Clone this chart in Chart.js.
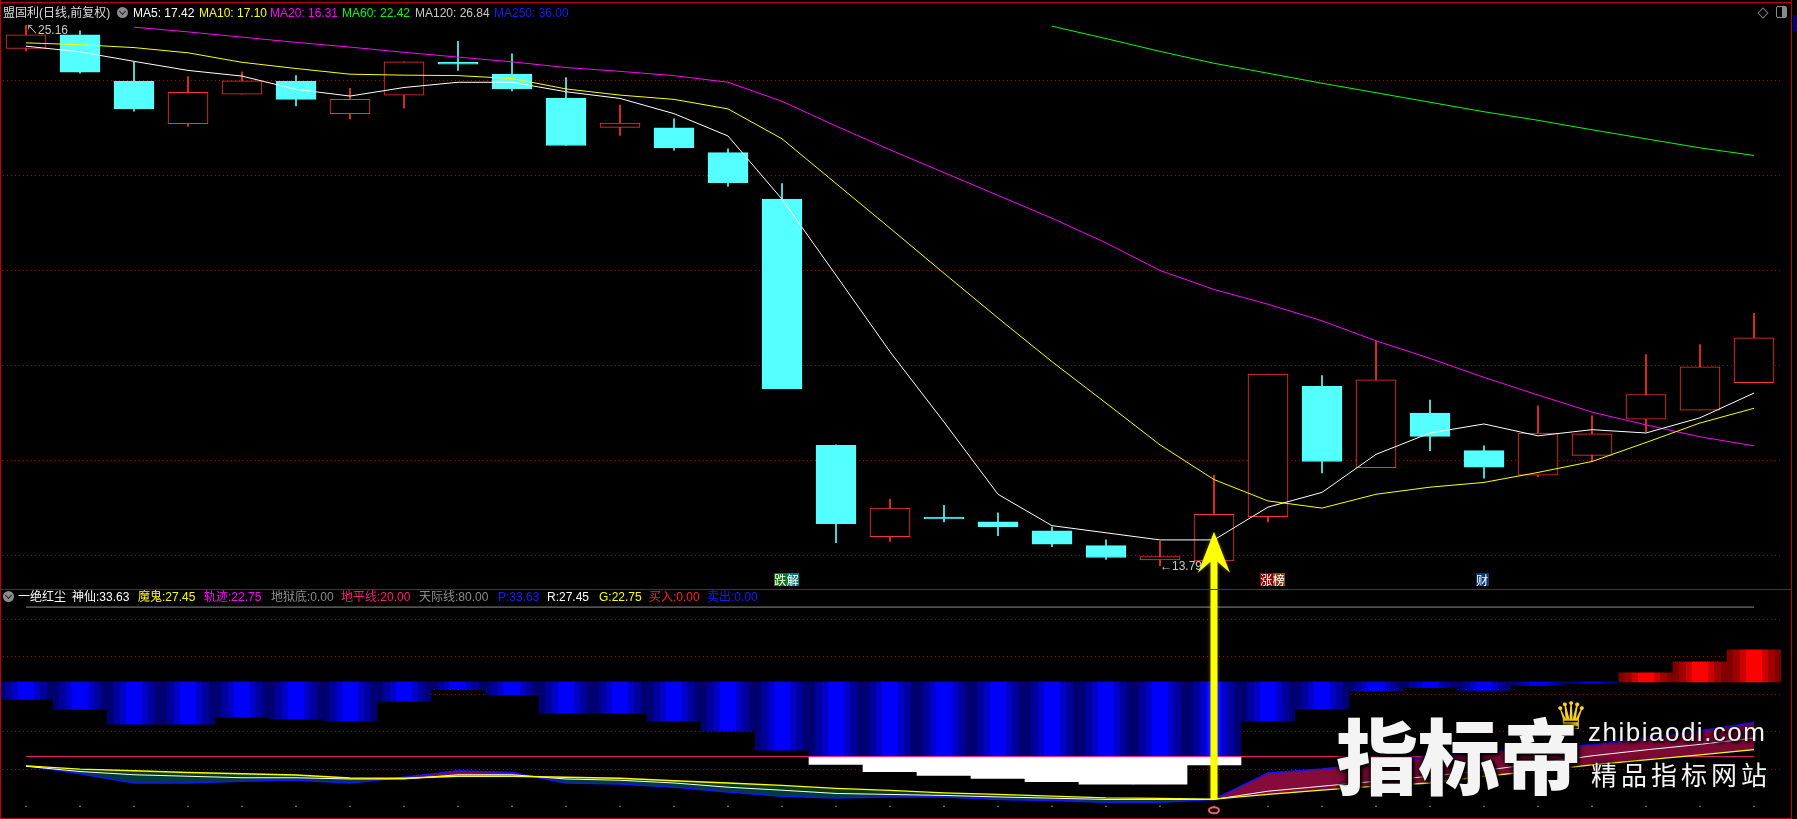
<!DOCTYPE html>
<html>
<head>
<meta charset="utf-8">
<title>盟固利 日线</title>
<script src="https://cdn.jsdelivr.net/npm/chart.js@4.4.1/dist/chart.umd.min.js"></script>
<style>
    html, body { margin: 0; padding: 0; background: #000; width: 1797px; height: 819px; overflow: hidden; }
    #wrap { position: relative; width: 1797px; height: 819px; overflow: hidden; }
    #kc { position: absolute; left: -5px; top: 14px; }
    .t { position: absolute; font: 12px "Liberation Sans", "Noto Sans CJK SC", sans-serif; line-height: 14px; white-space: nowrap; }
    .line { position: absolute; background: #c00000; }
    .ico { position: absolute; width: 11px; height: 11px; border-radius: 50%; background: #8c8c8c; }
    .ico::after { content: ""; position: absolute; left: 3px; top: 2px; width: 4px; height: 4px; border-right: 1.5px solid #222; border-bottom: 1.5px solid #222; transform: rotate(45deg); }
    .tag { position: absolute; font: 12px "Noto Sans CJK SC", sans-serif; line-height: 13px; color: #fff; display: flex; }
    .tag span { display: block; width: 12.5px; text-align: center; }
    .wm { position: absolute; color: #f4f4f4; white-space: nowrap; text-shadow: 0 0 4px #000, 0 0 8px #000, 2px 2px 3px #000; }
</style>
</head>
<body>
<div id="wrap">
    <canvas id="kc" width="1790" height="804"></canvas>

    <!-- frame -->
    <div class="line" style="left:0;top:2px;width:1792px;height:1px"></div>
    <div class="line" style="left:0;top:0;width:1px;height:819px"></div>
    <div class="line" style="left:1791px;top:0;width:1px;height:819px"></div>
    <div class="line" style="left:0;top:589px;width:1792px;height:1px"></div>
    <div class="line" style="left:0;top:818px;width:1792px;height:1px"></div>
    <div style="position:absolute;left:1793px;top:15px;width:4px;height:16px;background:#000080"></div>
    <div style="position:absolute;left:1759px;top:9px;width:6px;height:6px;border:1px solid #777;transform:rotate(45deg)"></div>
    <div style="position:absolute;left:1776px;top:6px;width:9px;height:10px;border:1px solid #888;border-radius:2px;background:linear-gradient(90deg,#000 50%,#888 50%)"></div>

    <!-- main legend -->
    <span class="t" style="left:3px;top:6px;color:#dcdcdc">盟固利(日线,前复权)</span>
    <div class="ico" style="left:117px;top:7px"></div>
    <span class="t" style="left:133px;top:6px;color:#ffffff">MA5: 17.42</span>
    <span class="t" style="left:199px;top:6px;color:#ffff00">MA10: 17.10</span>
    <span class="t" style="left:270px;top:6px;color:#ff00ff">MA20: 16.31</span>
    <span class="t" style="left:342px;top:6px;color:#00ff00">MA60: 22.42</span>
    <span class="t" style="left:415px;top:6px;color:#c8c8c8">MA120: 26.84</span>
    <span class="t" style="left:494px;top:6px;color:#1a1aff">MA250: 36.00</span>

    <!-- indicator legend -->
    <div class="ico" style="left:3px;top:591px"></div>
    <span class="t" style="left:18px;top:590px;color:#ffffff">一绝红尘</span>
    <span class="t" style="left:72px;top:590px;color:#ffffff">神仙:33.63</span>
    <span class="t" style="left:138px;top:590px;color:#ffff00">魔鬼:27.45</span>
    <span class="t" style="left:204px;top:590px;color:#ff00ff">轨迹:22.75</span>
    <span class="t" style="left:271px;top:590px;color:#8c8c8c">地狱底:0.00</span>
    <span class="t" style="left:341px;top:590px;color:#ff1a75">地平线:20.00</span>
    <span class="t" style="left:419px;top:590px;color:#8c8c8c">天际线:80.00</span>
    <span class="t" style="left:498px;top:590px;color:#1a1aff">P:33.63</span>
    <span class="t" style="left:547px;top:590px;color:#ffffff">R:27.45</span>
    <span class="t" style="left:599px;top:590px;color:#ffff00">G:22.75</span>
    <span class="t" style="left:649px;top:590px;color:#ff2020">买入:0.00</span>
    <span class="t" style="left:707px;top:590px;color:#1a1aff">卖出:0.00</span>

    <!-- price marks, placed from the scales below -->
    <span class="t" id="hiMark" style="color:#c8c8c8"></span>
    <span class="t" id="loMark" style="color:#c8c8c8"></span>
    <div id="tags"></div>

    <!-- site watermark -->
    <span class="wm" style="left:1554px;top:694px;font:38px 'DejaVu Sans';color:#ffd21a">♛</span>
    <span class="wm" style="left:1336px;top:712px;font:900 82px/1 'Noto Sans CJK SC'">指标帝</span>
    <span class="wm" style="left:1588px;top:717px;font:26px/1.2 'Liberation Sans';letter-spacing:1.5px">zhibiaodi.com</span>
    <span class="wm" style="left:1591px;top:760px;font:26px/1.1 'Noto Sans CJK SC';letter-spacing:4px">精品指标网站</span>
</div>

<script>
// ---------- DATA ----------
const days = ["01", "02", "03", "04", "05", "06", "07", "08", "09", "10", "11",
    "12", "13", "14", "15", "16", "17", "18", "19", "20", "21", "22",
    "23", "24", "25", "26", "27", "28", "29", "30", "31", "32", "33"];

const openP = [24.67, 24.96, 23.98, 23.09, 23.71, 23.98, 23.30, 23.69, 24.38, 24.13, 23.63,
    23.01, 23.00, 22.48, 21.50, 16.32, 14.40, 14.81, 14.71, 14.52, 14.21, 13.91,
    13.89, 14.82, 17.56, 15.85, 17.00, 16.21, 15.69, 16.11, 16.87, 17.06, 17.64];
const highP = [25.16, 25.04, 24.38, 24.08, 24.18, 24.10, 23.83, 24.39, 24.82, 24.56, 24.06,
    23.48, 23.19, 22.56, 21.83, 16.33, 15.19, 15.06, 14.90, 14.60, 14.33, 14.30,
    15.69, 17.82, 17.79, 18.51, 17.27, 16.31, 17.15, 16.94, 18.23, 18.44, 19.10];
const lowP = [24.62, 24.15, 23.35, 23.03, 23.71, 23.46, 23.19, 23.42, 24.21, 23.78, 22.63,
    22.84, 22.53, 21.77, 17.51, 14.27, 14.30, 14.71, 14.42, 14.19, 13.92, 13.79,
    13.89, 14.71, 15.74, 15.85, 16.21, 15.63, 15.66, 15.98, 16.61, 17.06, 17.64];
const closeP = [24.96, 24.17, 23.40, 23.75, 23.99, 23.60, 23.60, 24.39, 24.34, 23.82, 22.63,
    23.10, 22.58, 21.85, 17.51, 14.67, 15.00, 14.77, 14.61, 14.24, 13.96, 13.98,
    14.87, 17.82, 15.98, 17.70, 16.51, 15.86, 16.58, 16.56, 17.39, 17.97, 18.58];

const ma5 = [24.72, 24.60, 24.40, 24.21, 24.09, 23.81, 23.67, 23.85, 23.96, 23.96, 23.76,
    23.62, 23.30, 22.83, 21.50, 19.90, 18.29, 16.81, 15.29, 14.63, 14.48, 14.33,
    14.33, 15.02, 15.33, 16.13, 16.58, 16.77, 16.52, 16.65, 16.58, 16.90, 17.42];
const ma10 = [24.79, 24.75, 24.69, 24.58, 24.38, 24.25, 24.13, 24.11, 24.10, 24.04, 23.82,
    23.69, 23.60, 23.40, 22.77, 21.83, 20.89, 19.94, 19.00, 18.08, 17.21, 16.33,
    15.60, 15.15, 15.00, 15.29, 15.44, 15.54, 15.75, 15.98, 16.38, 16.79, 17.10];
const ma20 = [null, null, 25.12, 25.02, 24.91, 24.80, 24.70, 24.59, 24.49, 24.39, 24.27,
    24.19, 24.10, 23.96, 23.56, 23.04, 22.54, 22.06, 21.58, 21.10, 20.58, 20.00,
    19.60, 19.29, 18.94, 18.52, 18.15, 17.75, 17.38, 17.02, 16.75, 16.50, 16.31];
const ma60 = [null, null, null, null, null, null, null, null, null, null, null,
    null, null, null, null, null, null, null, null, 25.14, 24.88, 24.61,
    24.36, 24.15, 23.94, 23.74, 23.54, 23.34, 23.16, 22.96, 22.77, 22.58, 22.42];

// 一绝红尘 indicator
const bandBlue = [42.9, 38.9, 33.0, 33.0, 35.8, 35.0, 34.2, 42.1, 46.9, 44.8, 37.3,
    37.3, 34.4, 30.2, 22.6, 20.0, 20.0, 20.0, 20.0, 20.0, 20.0, 20.0,
    20.0, 34.2, 39.1, 46.5, 47.7, 46.6, 48.6, 49.4, null, null, null];
const bandRed = [null, null, null, null, null, null, null, null, null, null, null,
    null, null, null, null, null, null, null, null, null, null, null,
    null, null, null, null, null, null, null, null, 53.6, 58.0, 62.8];
const bandWhite = [null, null, null, null, null, null, null, null, null, null, null,
    null, null, null, null, 16.8, 13.9, 12.4, 11.2, 9.9, 8.9, 8.9,
    16.6, null, null, null, null, null, null, null, null, null, null];
const indP = [16.4, 13.1, 9.4, 9.4, 10.1, 10.5, 9.4, 11.7, 14.3, 13.6, 9.4,
    9.0, 7.7, 5.8, 4.1, 3.4, 3.8, 3.8, 2.8, 2.4, 1.7, 1.7,
    2.8, 13.4, 15.0, 17.3, 20.0, 21.6, 23.3, 24.7, 27.3, 30.3, 33.63];
const indR = [16.1, 14.0, 12.7, 12.1, 11.5, 11.5, 11.0, 11.0, 12.7, 12.7, 11.0,
    10.5, 9.4, 7.7, 6.5, 5.2, 4.8, 4.4, 3.8, 3.3, 2.8, 2.8,
    2.8, 6.1, 8.1, 10.1, 12.1, 14.4, 17.3, 20.3, 22.7, 24.9, 27.45];
const indG = [16.3, 15.0, 14.3, 13.6, 13.1, 12.6, 11.4, 11.3, 12.1, 12.1, 11.7,
    11.3, 10.3, 9.4, 8.4, 7.2, 6.4, 5.4, 4.8, 4.1, 3.4, 3.2,
    2.9, 4.8, 6.5, 8.1, 9.4, 12.1, 14.3, 16.7, 18.7, 20.7, 22.75];
const BAND_MID = 50;
const SKY = 80;     // 天际线
const EARTH = 20;   // 地平线
const HELL = 0;     // 地狱底

const mainGrid = [14, 16, 18, 20, 22, 24];
const indGrid = [15, 30, 45, 60, 75];

// marks
const tagBars = [14, 23, 27];
const tagTexts = ["跌解", "涨榜", "财"];
const ARROW_BAR = 22, ARROW_TIP = 14.5, ARROW_FOOT = 2.9;

// ---------- STYLE ----------
const UP = "#ff3232", DOWN = "#54ffff";
const CANVAS_LEFT = -5, CANVAS_TOP = 14;
const tagColors = [["#0a7a0a", "#007b7b"], ["#8b0000", "#8b4000"], ["#0a3a70"]];

const isUp = i => closeP[i] >= openP[i];

function stripeFill(stops, fallback) {
    return ctx => {
        const chart = ctx.chart;
        if (!chart.chartArea || ctx.dataIndex === undefined) return fallback;
        const xs = chart.scales.x;
        const c = xs.getPixelForValue(ctx.dataIndex);
        const w = xs.width / days.length;
        const g = chart.ctx.createLinearGradient(c - w / 2, 0, c + w / 2, 0);
        stops.forEach(([p, col]) => g.addColorStop(p, col));
        return g;
    };
}
const bands = (a, b, c, d) => [[0, a], [0.12, a], [0.12, b], [0.24, b], [0.24, c], [0.36, c], [0.36, d],
    [0.64, d], [0.64, c], [0.76, c], [0.76, b], [0.88, b], [0.88, a], [1, a]];
const blueStops = bands("#000070", "#00009c", "#0000c8", "#0000ff");
const redStops = bands("#800000", "#a00000", "#cc0000", "#ff0000");

const hiddenY = (grid, extra) => Object.assign({
    type: "linear",
    position: "left",
    stack: "panes",
    ticks: { display: false },
    grid: { color: "#b00000", lineWidth: 1, drawTicks: false },
    border: { display: false, dash: [1, 3] },
    afterBuildTicks: s => { s.ticks = grid.map(v => ({ value: v })); },
    afterFit: s => { s.width = 0; }
}, extra);

const lineDs = (data, color, axis, extra) => Object.assign({
    type: "line", data, yAxisID: axis, borderColor: color, borderWidth: 1,
    pointRadius: 0, tension: 0, fill: false, order: 1
}, extra);

const barDs = (data, axis, extra) => Object.assign({
    type: "bar", data, yAxisID: axis, grouped: false, borderSkipped: false,
    barPercentage: 1, categoryPercentage: 1
}, extra);

// ---------- OVERLAY ----------
const arrowPlugin = {
    id: "signalArrow",
    afterDatasetsDraw(chart) {
        const { ctx, scales } = chart;
        const x = scales.x.getPixelForValue(ARROW_BAR);
        const tip = scales.yMain.getPixelForValue(ARROW_TIP);
        const foot = scales.yInd.getPixelForValue(ARROW_FOOT);
        ctx.save();
        ctx.shadowColor = "rgba(255,255,120,0.35)";
        ctx.shadowBlur = 4;
        ctx.fillStyle = "#ffff00";
        ctx.fillRect(x - 3.5, tip + 28, 7, foot - tip - 28);
        ctx.beginPath();
        ctx.moveTo(x, tip);
        ctx.lineTo(x + 16, tip + 41);
        ctx.lineTo(x + 3.5, tip + 30);
        ctx.lineTo(x - 3.5, tip + 30);
        ctx.lineTo(x - 16, tip + 41);
        ctx.closePath();
        ctx.fill();
        ctx.shadowBlur = 0;
        ctx.strokeStyle = "#ff5a78";
        ctx.lineWidth = 2;
        ctx.beginPath();
        ctx.ellipse(x, foot + 11, 5, 3, 0, 0, Math.PI * 2);
        ctx.stroke();
        ctx.restore();
    }
};

// ---------- CHART ----------
const datasets = [
    barDs(days.map((_, i) => [lowP[i], highP[i]]), "yMain", {
        backgroundColor: days.map((_, i) => isUp(i) ? UP : DOWN),
        barThickness: 1, order: 6
    }),
    barDs(days.map((_, i) => [openP[i], closeP[i]]), "yMain", {
        backgroundColor: days.map((_, i) => isUp(i) ? "#000" : DOWN),
        borderColor: days.map((_, i) => isUp(i) ? UP : DOWN),
        borderWidth: 1, barThickness: 40, order: 5
    }),
    lineDs(ma5, "#ffffff", "yMain"),
    lineDs(ma10, "#ffff00", "yMain"),
    lineDs(ma20, "#ff00ff", "yMain"),
    lineDs(ma60, "#00ff00", "yMain"),

    barDs(bandBlue.map(v => v == null ? null : [v, BAND_MID]), "yInd", {
        backgroundColor: stripeFill(blueStops, "#0000ff"), order: 9
    }),
    barDs(bandRed.map(v => v == null ? null : [BAND_MID, v]), "yInd", {
        backgroundColor: stripeFill(redStops, "#ff0000"), order: 9
    }),
    barDs(bandWhite.map(v => v == null ? null : [v, EARTH]), "yInd", {
        backgroundColor: "#ffffff", order: 8
    }),
    lineDs(days.map(() => SKY), "#8c8c8c", "yInd", { order: 4 }),
    lineDs(days.map(() => EARTH), "#ff1a6e", "yInd", { order: 4 }),
    lineDs(days.map(() => HELL), "#8c8c8c", "yInd", {
        showLine: false, pointRadius: 0.8, pointBackgroundColor: "#8c8c8c", pointBorderWidth: 0, order: 4
    }),
    lineDs(indG, "#ffff00", "yInd", { order: 2, borderWidth: 1.3 }),
    lineDs(indR, "#ffffff", "yInd", { order: 2, fill: { target: 12, above: "#7d0a35", below: "#0b3a0e" } }),
    lineDs(indP, "#1414ff", "yInd", { order: 3, borderWidth: 1.6, fill: { target: 13, above: "#860a3a", below: "#003c3c" } })
];

const chart = new Chart(document.getElementById("kc"), {
    type: "bar",
    data: { labels: days, datasets },
    options: {
        responsive: false,
        animation: false,
        events: [],
        layout: { padding: 0 },
        plugins: { legend: { display: false }, tooltip: { enabled: false } },
        scales: {
            x: { type: "category", display: false, offset: true },
            yInd: hiddenY(indGrid, { min: -3.05, max: 87.55, stackWeight: 228 }),
            yMain: hiddenY(mainGrid, { min: 13.3125, max: 25.3125, stackWeight: 576 })
        }
    },
    plugins: [arrowPlugin]
});

// ---------- LABELS ----------
const px = i => chart.scales.x.getPixelForValue(i) + CANVAS_LEFT;
const pyMain = v => chart.scales.yMain.getPixelForValue(v) + CANVAS_TOP;

const hiIdx = highP.indexOf(Math.max(...highP));
const loIdx = lowP.indexOf(Math.min(...lowP));
const hiMark = document.getElementById("hiMark");
hiMark.textContent = "↖" + highP[hiIdx].toFixed(2);
hiMark.style.left = px(hiIdx) + "px";
hiMark.style.top = (pyMain(highP[hiIdx]) - 2) + "px";
const loMark = document.getElementById("loMark");
loMark.textContent = "←" + lowP[loIdx].toFixed(2);
loMark.style.left = px(loIdx) + "px";
loMark.style.top = (pyMain(lowP[loIdx]) - 7) + "px";

const paneBottom = chart.scales.yMain.bottom + CANVAS_TOP;
const tagBox = document.getElementById("tags");
tagBars.forEach((bar, k) => {
    const el = document.createElement("div");
    el.className = "tag";
    el.style.left = (px(bar) - 8) + "px";
    el.style.top = (paneBottom - 15) + "px";
    [...tagTexts[k]].forEach((ch, j) => {
        const s = document.createElement("span");
        s.textContent = ch;
        s.style.background = tagColors[k][j];
        el.appendChild(s);
    });
    tagBox.appendChild(el);
});
</script>
</body>
</html>
